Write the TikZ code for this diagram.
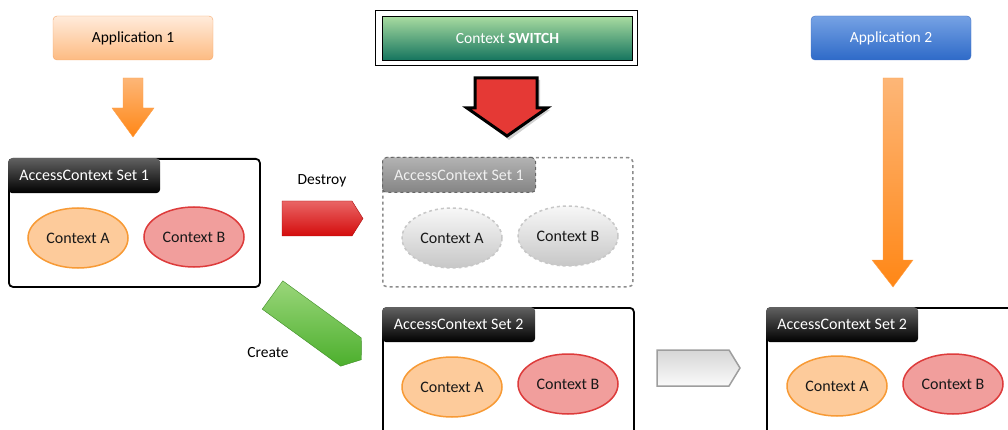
\documentclass[tikz,border=0pt]{standalone}
\usepackage{fontspec}
\setmainfont{Carlito}
\usetikzlibrary{shapes.geometric}

\definecolor{apponetop}{HTML}{FFEBDB}
\definecolor{apponebot}{HTML}{FDBB82}
\definecolor{apponeline}{HTML}{F5A66A}
\definecolor{apptwotop}{HTML}{76A2E4}
\definecolor{apptwobot}{HTML}{2E6AC8}
\definecolor{apptwoline}{HTML}{4472C4}
\definecolor{switchtop}{HTML}{A8DBA0}
\definecolor{switchbot}{HTML}{14745E}
\definecolor{ctxafill}{HTML}{FDCB9B}
\definecolor{ctxaline}{HTML}{F79A35}
\definecolor{ctxbfill}{HTML}{F19E9C}
\definecolor{ctxbline}{HTML}{DD3B3B}
\definecolor{ghostline}{HTML}{8C8C8C}
\definecolor{orangetop}{HTML}{FDB677}
\definecolor{orangebot}{HTML}{FF8716}
\definecolor{switchred}{HTML}{E53935}
\definecolor{destroytop}{HTML}{E96565}
\definecolor{destroybot}{HTML}{D40C0C}
\definecolor{createtop}{HTML}{9AD67A}
\definecolor{createbot}{HTML}{4CAF2D}

\tikzset{
  setbox/.style={draw, line width=1.8pt, rounded corners=4pt, anchor=north west},
  settab/.style={rounded corners=4pt, top color=black!62, bottom color=black,
    text=white, anchor=north west, minimum width=152pt, minimum height=35pt,
    font=\fontsize{16}{19}\selectfont},
  ctx/.style={ellipse, line width=1.5pt, minimum width=100pt, minimum height=60pt,
    inner sep=0pt, text=black!90, font=\fontsize{16}{19}\selectfont},
  ctxa/.style={ctx, draw=ctxaline, fill=ctxafill},
  ctxb/.style={ctx, draw=ctxbline, fill=ctxbfill},
  ghostctx/.style={ctx, dashed, draw=black!22, top color=black!3, bottom color=black!22}
}

\begin{document}
\begin{tikzpicture}[x=1pt, y=-1pt, font=\fontsize{15.5}{18}\selectfont]
\clip (0,0) rectangle (1008,430);

% applications and the switch
\node[rounded corners=4pt, draw=apponeline, top color=apponetop, bottom color=apponebot,
  minimum width=160pt, minimum height=44pt] (app1) at (133,38) {Application 1};
\node[rounded corners=4pt, draw=apptwoline, top color=apptwotop, bottom color=apptwobot,
  text=white, minimum width=160pt, minimum height=44pt] (app2) at (891,38) {Application 2};
\node[draw, line width=1.8pt, fill=white, minimum width=262pt, minimum height=55pt] (switchframe) at (506.5,38) {};
\node[draw, line width=1.8pt, top color=switchtop, bottom color=switchbot, text=white,
  minimum width=250pt, minimum height=44pt] (switch) at (507.5,38.5) {Context \textbf{SWITCH}};

% access context sets
\node[setbox, minimum width=251pt, minimum height=128pt] (set1) at (8,158) {};
\node[settab] (tab1) at (set1.north west) {AccessContext Set 1};
\node[ctxa] (a1) at (78,238) {Context A};
\node[ctxb] (b1) at (194,237) {Context B};

\node[draw=ghostline, dashed, line width=1.5pt, rounded corners=4pt, anchor=north west,
  minimum width=250pt, minimum height=129pt] (oldset) at (382,157) {};
\node[settab, draw=black!60, dashed, line width=1pt, top color=black!30, bottom color=black!48,
  text=black!6, minimum width=153pt] (oldtab) at (oldset.north west) {AccessContext Set 1};
\node[ghostctx] (olda) at (452,238) {Context A};
\node[ghostctx] (oldb) at (568,236) {Context B};

\node[setbox, minimum width=251pt, minimum height=140pt] (set2) at (382,307) {};
\node[settab, minimum width=153pt] (tab2) at (set2.north west) {AccessContext Set 2};
\node[ctxa] (a2) at (452,387) {Context A};
\node[ctxb] (b2) at (568,384) {Context B};

\node[setbox, minimum width=260pt, minimum height=140pt] (set3) at (766,307) {};
\node[settab] (tab3) at (set3.north west) {AccessContext Set 2};
\node[ctxa] (a3) at (837,386) {Context A};
\node[ctxb] (b3) at (953,384) {Context B};

% labels
\node (destroy) at (322,181) {Destroy};
\node (create) at (268,353) {Create};

% block arrows
\shade[top color=orangetop, bottom color=orangebot, draw=orangebot!80!white]
  (123,78) -- (143,78) -- (143,108) -- (154,108) -- (133,137) -- (112,108) -- (123,108) -- cycle;
\shade[top color=orangetop, bottom color=orangebot, draw=orangebot!80!white]
  (883,78) -- (903,78) -- (903,260) -- (913,260) -- (893,287) -- (872,260) -- (883,260) -- cycle;
\fill[black, opacity=0.18]
  (478,80) -- (540,80) -- (540,110) -- (550,110) -- (509,140) -- (470,110) -- (478,110) -- cycle;
\filldraw[fill=switchred, draw=black, line width=3pt, line join=miter]
  (475,78) -- (537,78) -- (537,108) -- (547,108) -- (507,136) -- (467,108) -- (475,108) -- cycle;
\shade[top color=destroytop, bottom color=destroybot, draw=destroybot!80!black]
  (282,201) -- (352,201) -- (363,218.5) -- (352,236) -- (282,236) -- cycle;
\shade[top color=black!16, bottom color=black!2, draw=black!38, line width=1.5pt]
  (657,350) -- (729,350) -- (740,368) -- (729,386) -- (657,386) -- cycle;
\begin{scope}[shift={(272.5,295)}, rotate=-36]
  \shade[top color=createtop, bottom color=createbot, draw=createbot!80!black]
    (0,-17.5) -- (97,-17.5) -- (110,0) -- (97,17.5) -- (0,17.5) -- cycle;
\end{scope}

\end{tikzpicture}
\end{document}
